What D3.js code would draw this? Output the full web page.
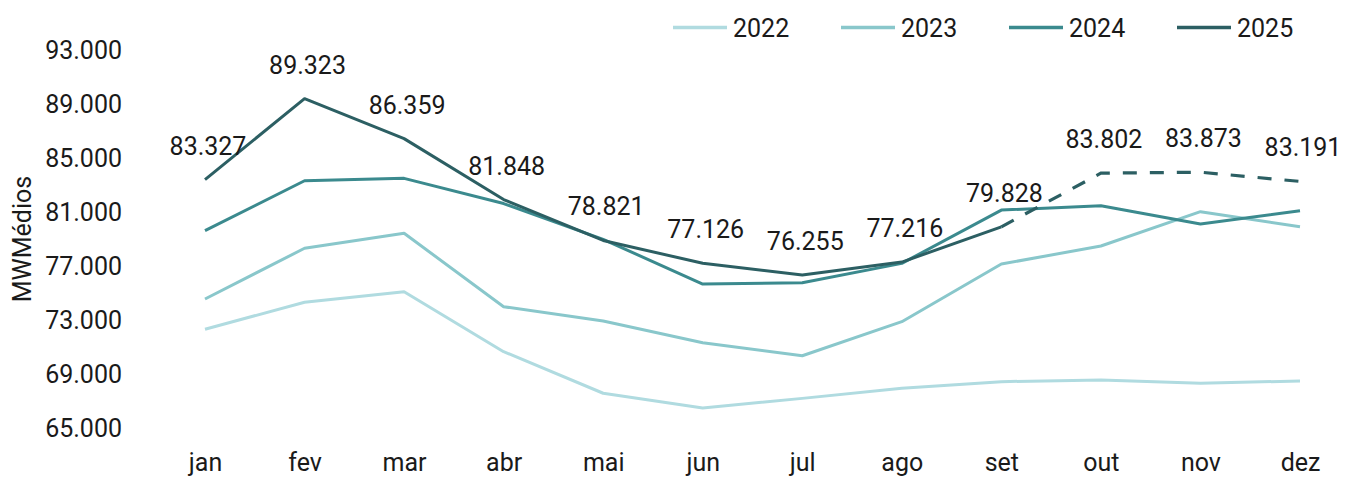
<html>
<head>
<script src="https://cdn.jsdelivr.net/npm/d3@7"></script>
<style>
  body { margin: 0; padding: 0; background: #fff; }
  text { font-family: Roboto, "Noto Sans", sans-serif; fill: #1a1a1a; }
</style>
</head>
<body>
<div id="chart"></div>
<script>
const months = ['jan', 'fev', 'mar', 'abr', 'mai', 'jun', 'jul', 'ago', 'set', 'out', 'nov', 'dez'];
const yTicks = [65000, 69000, 73000, 77000, 81000, 85000, 89000, 93000];

const v2022 = [72240, 74240, 75020, 70580, 67500, 66400, 67120, 67870, 68360, 68480, 68240, 68410];
const v2023 = [74480, 78240, 79350, 73910, 72850, 71240, 70280, 72800, 77070, 78410, 80950, 79840];
const v2024 = [79540, 83240, 83420, 81550, 78900, 75590, 75690, 77120, 81070, 81390, 80040, 81020];
const v2025 = [83327, 89323, 86359, 81848, 78821, 77126, 76255, 77216, 79828];
// projection, starts at set
const proj2025 = [null, null, null, null, null, null, null, null, 79828, 83802, 83873, 83191];

const width = 1352, height = 478;
const svg = d3.select('#chart').append('svg').attr('width', width).attr('height', height);

const x = d3.scalePoint().domain(months).range([205, 1300]);
const y = d3.scaleLinear().domain([65000, 93000]).range([427, 49]);
const fmt = d3.formatLocale({ decimal: ',', thousands: '.', grouping: [3], currency: ['', ''] }).format(',.0f');
const fmtTick = v => fmt(v);

// y axis labels (no line)
const yAxis = d3.axisLeft(y).tickValues(yTicks).tickSize(0).tickPadding(0).tickFormat(fmtTick);
const gy = svg.append('g').attr('transform', 'translate(122,0)').call(yAxis);
gy.select('.domain').remove();
gy.selectAll('text').attr('font-size', 25).attr('dy', '0.36em').attr('font-family', 'Roboto').attr('fill', '#1a1a1a');

// x axis labels
const xAxis = d3.axisBottom(x).tickSize(0).tickPadding(0);
const gx = svg.append('g').attr('transform', 'translate(0,452)').call(xAxis);
gx.select('.domain').remove();
gx.selectAll('text').attr('font-size', 25).attr('dy', '0.76em').attr('font-family', 'Roboto').attr('fill', '#1a1a1a');

svg.append('text')
  .attr('transform', 'translate(31,239) rotate(-90)')
  .attr('text-anchor', 'middle')
  .attr('font-size', 25)
  .text('MWMédios');

const series = [
  { name: '2022', values: v2022, color: '#b0dbe0' },
  { name: '2023', values: v2023, color: '#89c7cb' },
  { name: '2024', values: v2024, color: '#3b8a8e' },
  { name: '2025', values: v2025, color: '#2c5f63' }
];

const line = d3.line()
  .defined(d => d != null)
  .x((d, i) => x(months[i]))
  .y(d => y(d));

series.forEach(s => {
  svg.append('path')
    .datum(s.values)
    .attr('fill', 'none')
    .attr('stroke', s.color)
    .attr('stroke-width', 3)
    .attr('stroke-linejoin', 'round')
    .attr('d', line);
});

svg.append('path')
  .datum(proj2025)
  .attr('fill', 'none')
  .attr('stroke', '#2c5f63')
  .attr('stroke-width', 3.2)
  .attr('stroke-dasharray', '14,13')
  .attr('d', line);

// data labels for 2025 (actual + projection)
const labels = v2025.map((v, i) => ({ m: months[i], v: v }))
  .concat(proj2025.map((v, i) => ({ m: months[i], v: v })).filter((d, i) => d.v != null && i > 8));

svg.selectAll('.lbl')
  .data(labels)
  .enter()
  .append('text')
  .attr('class', 'lbl')
  .attr('x', d => x(d.m) + 3)
  .attr('y', d => y(d.v) - 25)
  .attr('text-anchor', 'middle')
  .attr('font-size', 25)
  .text(d => fmt(d.v));

// legend
const legend = svg.append('g').selectAll('g')
  .data(series)
  .enter()
  .append('g')
  .attr('transform', (d, i) => 'translate(' + (673 + i * 168) + ',0)');
legend.append('line')
  .attr('x1', 0).attr('x2', 54)
  .attr('y1', 27.5).attr('y2', 27.5)
  .attr('stroke', d => d.color)
  .attr('stroke-width', 3.5);
legend.append('text')
  .attr('x', 60)
  .attr('y', 37)
  .attr('font-size', 25)
  .text(d => d.name);
</script>
</body>
</html>
